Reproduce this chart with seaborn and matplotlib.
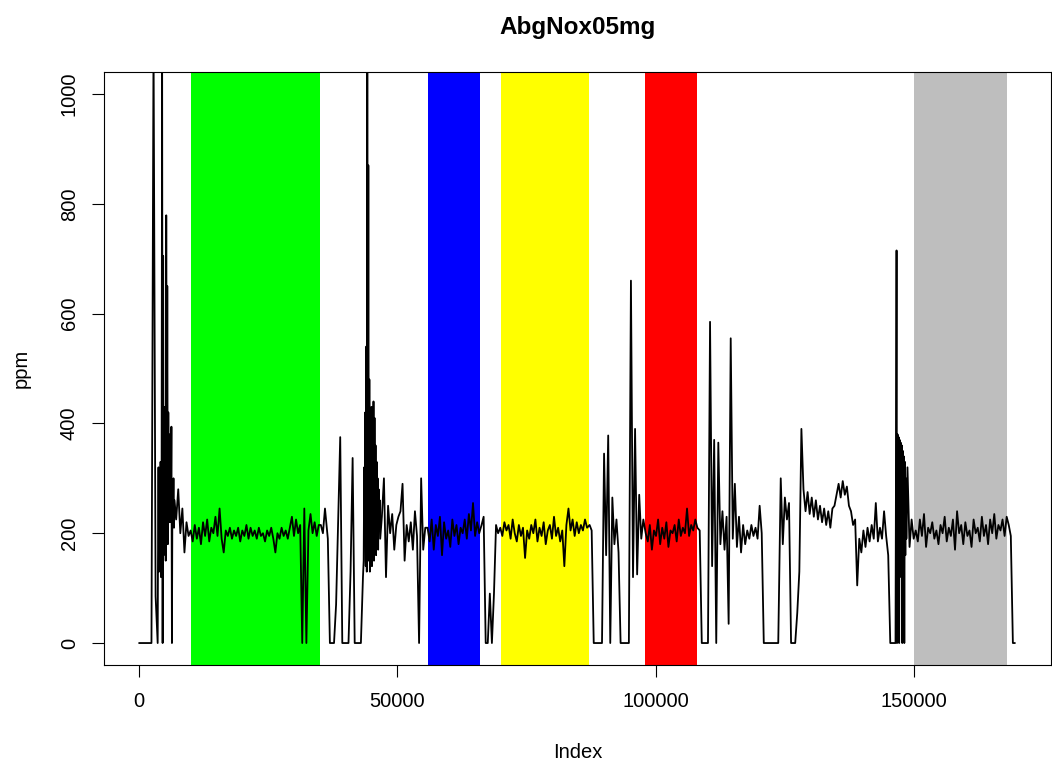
import numpy as np
import pandas as pd
import matplotlib
matplotlib.use("Agg")
import matplotlib.pyplot as plt
import seaborn as sns

# ppm readings, segment by segment
lead_in = [0, 0, 0, 0, 0, 0, 0, 1100, 85, 0]
burst_1 = [150, 320, 130, 300, 170, 330, 120, 280, 1100, 0, 705, 160, 430, 200, 400, 150, 779,
           220, 650, 180, 420, 240, 380, 220, 330, 250, 394, 0, 290, 230, 300, 210, 260]
green_run = [
    225, 280, 200, 245, 165, 220, 195,
    205, 185, 215, 190, 210, 180, 220, 195, 225, 185,
    210, 200, 230, 195, 245, 190, 165, 205, 195, 210,
    190, 205, 195, 210, 185, 205, 195, 215, 190, 210,
    195, 205, 190, 210, 195, 200, 185, 205, 195, 210,
    190, 165, 200, 190, 210, 195, 205, 190, 210, 230,
    195, 225, 200, 215, 0, 245, 0, 205, 235, 200,
    220, 195, 215,
    215, 200, 245,
]
gap_1 = [190, 0, 0, 0, 70, 220, 375, 0, 0, 0, 0, 130, 337, 0, 0, 0, 0, 120]
burst_2 = [150, 320, 180, 420, 140, 540, 130, 1100, 160, 870, 150, 480, 130, 380, 170, 430, 140,
           420, 180, 440, 150, 410, 190, 360, 160, 330, 200, 300, 170, 280, 210, 260, 190]
pre_blue = [230, 300, 120, 250, 200, 235, 170, 215, 230, 240, 290, 150, 215, 185, 220, 170, 240,
            195, 0, 300, 170, 210]
blue_run = [210, 185, 225, 170, 215, 195, 230, 160, 220, 190, 205, 175, 225, 195, 215, 180, 210,
            200, 225, 190, 235, 205, 255, 195, 220, 200]
mid_1 = [215, 230, 0, 0, 90, 0, 90, 215, 200]
yellow_run = [210, 195, 220, 205, 215, 190, 225, 200, 185, 215, 195, 210, 155, 205, 190, 215, 200,
              225, 185, 210, 195, 220, 180, 205, 215, 190, 230, 195, 210, 185, 205, 140, 215, 245,
              205, 225, 195, 220, 200, 215, 205, 225, 210]
mid_2 = [215, 205, 0, 0, 0, 0, 0, 345, 160, 378, 0, 265, 180, 225, 165, 0, 0, 0, 0, 0, 660, 120,
         390, 125, 270, 190, 225]
red_run = [200, 185, 215, 170, 205, 195, 225, 180, 210, 190, 220, 175, 205, 200, 215, 185, 225,
           195, 210, 200, 245, 195, 215, 205, 225, 210]
mid_3a = [205, 0, 0, 0, 0, 585, 140, 370, 0, 365, 180, 240, 170, 230, 35, 555, 190, 290, 175, 230,
          165, 215, 180, 205, 190, 215, 195, 210, 190, 250, 200, 0, 0, 0, 0, 0, 0, 0, 0]
mid_3b = [300, 180, 265, 225, 255, 0, 0, 0, 55, 130, 390, 280, 240, 275, 235, 265, 230, 260, 225,
          250, 220, 245, 215, 240, 210, 245, 250, 270, 290, 265, 295, 270, 285, 250, 240, 215, 225,
          105, 190, 165, 205, 175, 210, 185, 215, 190, 255, 185, 210, 190, 240, 195, 160, 0, 0, 0]
burst_3 = [0, 380, 715, 0, 380, 150, 375, 0, 370, 200, 365, 120, 360, 0, 350, 180, 340, 0, 330,
           160, 300, 190]
gray_run = [320, 175, 225, 190,
            205, 185, 225, 195, 235, 175, 210, 200, 220, 190, 205, 180, 215, 200, 230, 185, 210,
            195, 225, 170, 240, 200, 215, 180, 220, 195, 205, 175, 225, 200, 210, 185, 230, 195,
            215, 180, 225, 200, 235, 190, 215, 205, 225, 195, 230,
            215, 195, 0, 0]

# (first index, sampling step, readings)
segments = [
    (0, 400, lead_in), (3660, 100, burst_1), (7180, 400, green_run), (36530, 400, gap_1),
    (43470, 100, burst_2), (46990, 400, pre_blue), (55830, 400, blue_run), (66285, 400, mid_1),
    (69903, 400, yellow_run), (87192, 400, mid_2), (98048, 400, red_run), (108502, 400, mid_3a),
    (124183, 400, mid_3b), (146398, 100, burst_3), (148710, 400, gray_run),
]
n_obs = 169700

# coloured windows
band_start = [10000, 56000, 70000, 98000, 150000]
band_end = [35000, 66000, 87000, 108000, 168000]
band_color = ["#00FF00", "#0000FF", "#FFFF00", "#FF0000", "#BEBEBE"]

frames = []
for start, step, vals in segments:
    frames.append(pd.DataFrame({"Index": start + step * np.arange(len(vals)), "ppm": vals}))
df = pd.concat(frames, ignore_index=True)

sns.set_style("white")
plt.rcParams["font.family"] = ["Liberation Sans", "DejaVu Sans"]
plt.rcParams["text.color"] = "black"
plt.rcParams["axes.labelcolor"] = "black"

fig = plt.figure(figsize=(10.52, 7.66), dpi=100)
ax = fig.add_axes([104 / 1052, 1 - 665 / 766, (1051 - 104) / 1052, (665 - 72) / 766])

for s, e, c in zip(band_start, band_end, band_color):
    ax.axvspan(s, e, color=c, lw=0, zorder=0)

sns.lineplot(data=df, x="Index", y="ppm", ax=ax, color="black", linewidth=1.3,
             estimator=None, zorder=2)

pad = 0.04 * (n_obs - 1)
ax.set_xlim(1 - pad, n_obs + pad)
ax.set_ylim(-40, 1040)
xt = [0, 50000, 100000, 150000]
ax.set_xticks(xt, labels=[str(t) for t in xt])
yt = [0, 200, 400, 600, 800, 1000]
ax.set_yticks(yt, labels=[str(t) for t in yt])
ax.tick_params(axis="both", direction="out", length=8.6, width=0.8, color="black",
               labelsize=14.5, labelcolor="black")
ax.tick_params(axis="x", pad=11, bottom=True)
ax.tick_params(axis="y", pad=9.5, left=True, labelrotation=90)
plt.setp(ax.get_yticklabels(), va="center")

for sp in ax.spines.values():
    sp.set_color("black")
    sp.set_linewidth(0.8)

ax.set_xlabel("Index", fontsize=14.5, color="black")
ax.xaxis.set_label_coords(0.5, (665 - 752) / 593)
ax.xaxis.label.set_va("center")
ax.set_ylabel("ppm", fontsize=14.5, color="black")
ax.yaxis.set_label_coords((21 - 104) / 947, 0.5)
ax.yaxis.label.set_va("center")

ax.set_title("AbgNox05mg", fontsize=17.5, fontweight="bold", pad=27, color="black")

fig.savefig("out.png", dpi=100)
